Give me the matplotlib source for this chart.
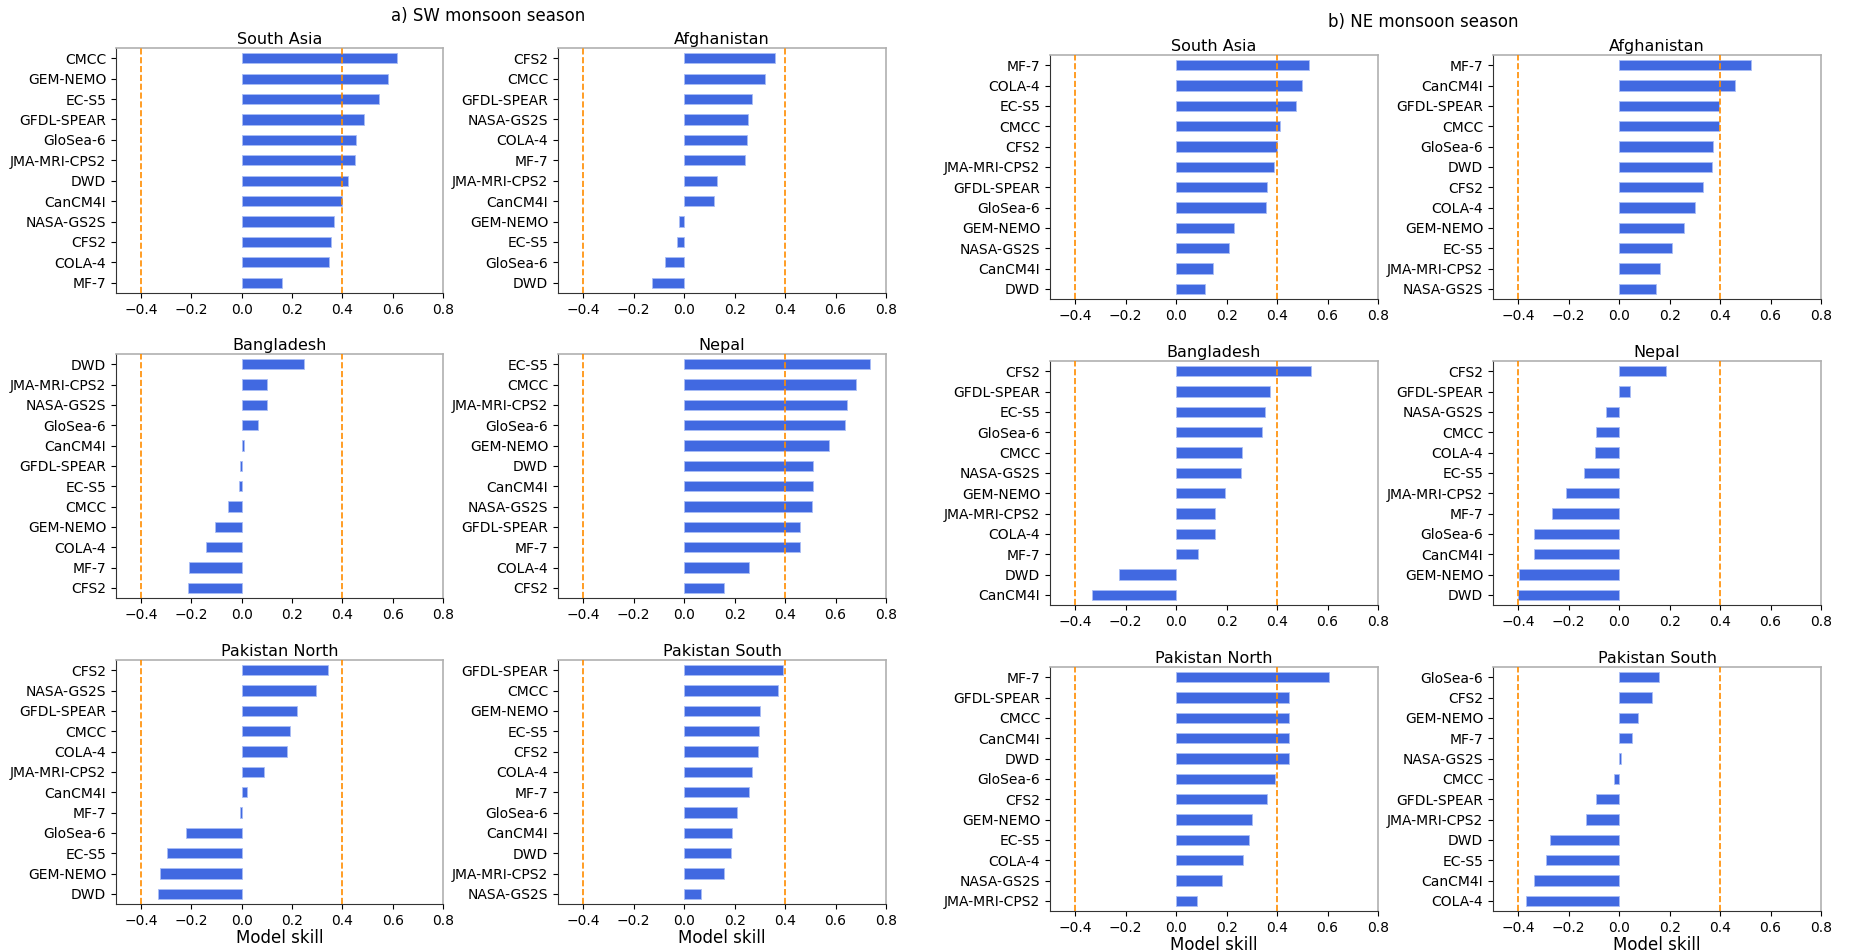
import matplotlib
matplotlib.use("Agg")
import matplotlib.pyplot as plt

W, H = 1851, 952

# ---------------- SW monsoon season ----------------
sw_south_asia_models = ["CMCC", "GEM-NEMO", "EC-S5", "GFDL-SPEAR", "GloSea-6", "JMA-MRI-CPS2",
                        "DWD", "CanCM4I", "NASA-GS2S", "CFS2", "COLA-4", "MF-7"]
sw_south_asia_vals = [0.619, 0.583, 0.547, 0.487, 0.453, 0.449, 0.421, 0.400, 0.366, 0.355, 0.348, 0.158]

sw_afghanistan_models = ["CFS2", "CMCC", "GFDL-SPEAR", "NASA-GS2S", "COLA-4", "MF-7",
                         "JMA-MRI-CPS2", "CanCM4I", "GEM-NEMO", "EC-S5", "GloSea-6", "DWD"]
sw_afghanistan_vals = [0.360, 0.322, 0.270, 0.254, 0.249, 0.240, 0.131, 0.118, -0.021, -0.028, -0.075, -0.128]

sw_bangladesh_models = ["DWD", "JMA-MRI-CPS2", "NASA-GS2S", "GloSea-6", "CanCM4I", "GFDL-SPEAR",
                        "EC-S5", "CMCC", "GEM-NEMO", "COLA-4", "MF-7", "CFS2"]
sw_bangladesh_vals = [0.248, 0.102, 0.099, 0.064, 0.008, -0.008, -0.011, -0.054, -0.106, -0.142, -0.208, -0.213]

sw_nepal_models = ["EC-S5", "CMCC", "JMA-MRI-CPS2", "GloSea-6", "GEM-NEMO", "DWD",
                   "CanCM4I", "NASA-GS2S", "GFDL-SPEAR", "MF-7", "COLA-4", "CFS2"]
sw_nepal_vals = [0.736, 0.681, 0.645, 0.638, 0.576, 0.510, 0.509, 0.505, 0.461, 0.461, 0.257, 0.156]

sw_pak_north_models = ["CFS2", "NASA-GS2S", "GFDL-SPEAR", "CMCC", "COLA-4", "JMA-MRI-CPS2",
                       "CanCM4I", "MF-7", "GloSea-6", "EC-S5", "GEM-NEMO", "DWD"]
sw_pak_north_vals = [0.344, 0.297, 0.220, 0.192, 0.181, 0.087, 0.019, -0.008, -0.221, -0.297, -0.325, -0.335]

sw_pak_south_models = ["GFDL-SPEAR", "CMCC", "GEM-NEMO", "EC-S5", "CFS2", "COLA-4",
                       "MF-7", "GloSea-6", "CanCM4I", "DWD", "JMA-MRI-CPS2", "NASA-GS2S"]
sw_pak_south_vals = [0.392, 0.371, 0.302, 0.298, 0.293, 0.270, 0.258, 0.211, 0.191, 0.184, 0.159, 0.066]

# ---------------- NE monsoon season ----------------
ne_south_asia_models = ["MF-7", "COLA-4", "EC-S5", "CMCC", "CFS2", "JMA-MRI-CPS2",
                        "GFDL-SPEAR", "GloSea-6", "GEM-NEMO", "NASA-GS2S", "CanCM4I", "DWD"]
ne_south_asia_vals = [0.527, 0.500, 0.476, 0.410, 0.400, 0.388, 0.361, 0.357, 0.230, 0.211, 0.147, 0.115]

ne_afghanistan_models = ["MF-7", "CanCM4I", "GFDL-SPEAR", "CMCC", "GloSea-6", "DWD",
                         "CFS2", "COLA-4", "GEM-NEMO", "EC-S5", "JMA-MRI-CPS2", "NASA-GS2S"]
ne_afghanistan_vals = [0.523, 0.461, 0.395, 0.395, 0.371, 0.367, 0.333, 0.301, 0.256, 0.211, 0.162, 0.145]

ne_bangladesh_models = ["CFS2", "GFDL-SPEAR", "EC-S5", "GloSea-6", "CMCC", "NASA-GS2S",
                        "GEM-NEMO", "JMA-MRI-CPS2", "COLA-4", "MF-7", "DWD", "CanCM4I"]
ne_bangladesh_vals = [0.535, 0.370, 0.351, 0.341, 0.262, 0.258, 0.194, 0.153, 0.152, 0.087, -0.225, -0.334]

ne_nepal_models = ["CFS2", "GFDL-SPEAR", "NASA-GS2S", "CMCC", "COLA-4", "EC-S5",
                   "JMA-MRI-CPS2", "MF-7", "GloSea-6", "CanCM4I", "GEM-NEMO", "DWD"]
ne_nepal_vals = [0.187, 0.042, -0.051, -0.092, -0.096, -0.139, -0.209, -0.265, -0.338, -0.338, -0.395, -0.401]

ne_pak_north_models = ["MF-7", "GFDL-SPEAR", "CMCC", "CanCM4I", "DWD", "GloSea-6",
                       "CFS2", "GEM-NEMO", "EC-S5", "COLA-4", "NASA-GS2S", "JMA-MRI-CPS2"]
ne_pak_north_vals = [0.604, 0.448, 0.446, 0.446, 0.446, 0.392, 0.359, 0.300, 0.289, 0.264, 0.181, 0.083]

ne_pak_south_models = ["GloSea-6", "CFS2", "GEM-NEMO", "MF-7", "NASA-GS2S", "CMCC",
                       "GFDL-SPEAR", "JMA-MRI-CPS2", "DWD", "EC-S5", "CanCM4I", "COLA-4"]
ne_pak_south_vals = [0.156, 0.132, 0.073, 0.051, 0.007, -0.020, -0.090, -0.131, -0.273, -0.290, -0.338, -0.370]

xticks = [-0.4, -0.2, 0.0, 0.2, 0.4, 0.6, 0.8]

panels = [
    # (title, models, values, left, top, right, bottom) in pixel coords
    ("South Asia", sw_south_asia_models, sw_south_asia_vals, 116, 48, 443, 293),
    ("Afghanistan", sw_afghanistan_models, sw_afghanistan_vals, 558, 48, 886, 293),
    ("Bangladesh", sw_bangladesh_models, sw_bangladesh_vals, 116, 354, 443, 598),
    ("Nepal", sw_nepal_models, sw_nepal_vals, 558, 354, 886, 598),
    ("Pakistan North", sw_pak_north_models, sw_pak_north_vals, 116, 660, 443, 904),
    ("Pakistan South", sw_pak_south_models, sw_pak_south_vals, 558, 660, 886, 904),
    ("South Asia", ne_south_asia_models, ne_south_asia_vals, 1050, 55, 1378, 299),
    ("Afghanistan", ne_afghanistan_models, ne_afghanistan_vals, 1493, 55, 1821, 299),
    ("Bangladesh", ne_bangladesh_models, ne_bangladesh_vals, 1050, 361, 1378, 605),
    ("Nepal", ne_nepal_models, ne_nepal_vals, 1493, 361, 1821, 605),
    ("Pakistan North", ne_pak_north_models, ne_pak_north_vals, 1050, 667, 1378, 911),
    ("Pakistan South", ne_pak_south_models, ne_pak_south_vals, 1493, 667, 1821, 911),
]

fig = plt.figure(figsize=(W / 100, H / 100), dpi=100)

for i, (title, models, vals, l, t, r, b) in enumerate(panels):
    ax = fig.add_axes([l / W, 1 - b / H, (r - l) / W, (b - t) / H])
    pos = list(range(len(models)))
    ax.barh(pos, vals, height=0.5, color="royalblue", edgecolor="#a9bdf5", linewidth=0.6, zorder=2)
    ax.set_yticks(pos)
    ax.set_yticklabels(models, fontsize=10)
    ax.set_ylim(len(models) - 0.5, -0.5)
    ax.set_xlim(-0.5, 0.8)
    ax.set_xticks(xticks)
    ax.set_xticklabels([f"{v:.1f}".replace("-", "\u2212") for v in xticks], fontsize=10)
    ax.axvline(-0.4, color="darkorange", linestyle="--", linewidth=1.2, zorder=3)
    ax.axvline(0.4, color="darkorange", linestyle="--", linewidth=1.2, zorder=3)
    ax.set_title(title, fontsize=11.5, pad=3)
    for s in ["top", "right"]:
        ax.spines[s].set_color("#b0b0b0")
        ax.spines[s].set_linewidth(1.2)
    for s in ["left", "bottom"]:
        ax.spines[s].set_color("#333333")
    if i in (4, 5, 10, 11):
        ax.set_xlabel("Model skill", fontsize=12, labelpad=1)

fig.text(488 / W, 1 - 16 / H, "a) SW monsoon season", fontsize=12, ha="center", va="center")
fig.text(1423 / W, 1 - 22 / H, "b) NE monsoon season", fontsize=12, ha="center", va="center")

fig.savefig("out.png", dpi=100)
